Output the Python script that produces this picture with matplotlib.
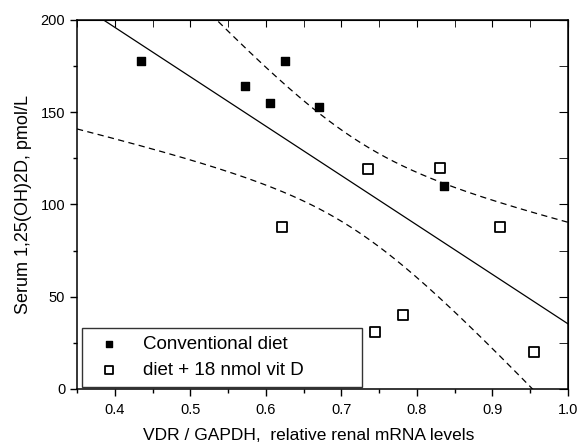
import numpy as np
import matplotlib
matplotlib.use("Agg")
import matplotlib.pyplot as plt
from matplotlib.ticker import MultipleLocator

plt.rcParams['font.family'] = ['Liberation Sans', 'DejaVu Sans']

conv_x = [0.435, 0.572, 0.605, 0.625, 0.670, 0.836]
conv_y = [178, 164, 155, 178, 153, 110]
vitd_x = [0.622, 0.735, 0.830, 0.745, 0.782, 0.910, 0.955]
vitd_y = [88, 119, 120, 31, 40, 88, 20]

labels = ["Conventional diet", "diet + 18 nmol vit D"]
xlabel = "VDR / GAPDH,  relative renal mRNA levels"
ylabel = "Serum 1,25(OH)2D, pmol/L"

# regression with 95% confidence band on the mean
x_all = np.array(conv_x + vitd_x)
y_all = np.array(conv_y + vitd_y)
n = len(x_all)
b, a = np.polyfit(x_all, y_all, 1)
resid = y_all - (a + b * x_all)
s = np.sqrt(np.sum(resid ** 2) / (n - 2))
xbar = x_all.mean()
sxx = np.sum((x_all - xbar) ** 2)
t = 2.201
xs = np.linspace(0.35, 1.0, 300)
yfit = a + b * xs
hw = t * s * np.sqrt(1 / n + (xs - xbar) ** 2 / sxx)

fig = plt.figure(figsize=(5.79, 4.44), dpi=100)
ax = fig.add_axes([0.133, 0.124, 0.848, 0.831])

ax.plot(xs, yfit, color='black', lw=0.9)
ax.plot(xs, yfit + hw, color='black', lw=0.9, ls=(0, (5, 3.5)))
ax.plot(xs, yfit - hw, color='black', lw=0.9, ls=(0, (5, 3.5)))

ax.scatter(conv_x, conv_y, marker='s', s=30, color='black', zorder=3, label=labels[0])
ax.scatter(vitd_x, vitd_y, marker='s', s=62, facecolor='white', edgecolor='black',
           linewidths=1.3, zorder=3, label=labels[1])

ax.set_xlim(0.35, 1.0)
ax.set_ylim(0, 200)
ax.xaxis.set_major_locator(MultipleLocator(0.1))
ax.xaxis.set_minor_locator(MultipleLocator(0.05))
ax.yaxis.set_major_locator(MultipleLocator(50))
ax.yaxis.set_minor_locator(MultipleLocator(25))
ax.set_xticks([0.4, 0.5, 0.6, 0.7, 0.8, 0.9, 1.0])
ax.set_xticklabels(['0.4', '0.5', '0.6', '0.7', '0.8', '0.9', '1.0'])

ax.tick_params(which='both', direction='out', labelsize=10.5, width=1, top=False, right=False)
ax.tick_params(which='major', length=5)
ax.tick_params(which='minor', length=3)
ax.tick_params(axis='x', pad=5)
for sp in ax.spines.values():
    sp.set_linewidth(1.1)

sec_x = ax.secondary_xaxis('top')
sec_x.xaxis.set_major_locator(MultipleLocator(0.1))
sec_x.xaxis.set_minor_locator(MultipleLocator(0.05))
sec_x.tick_params(which='both', direction='in', labeltop=False, length=5)
sec_y = ax.secondary_yaxis('right')
sec_y.yaxis.set_major_locator(MultipleLocator(50))
sec_y.yaxis.set_minor_locator(MultipleLocator(25))
sec_y.tick_params(which='both', direction='in', labelright=False, length=6.5)

ax.set_xlabel(xlabel, fontsize=12.5, labelpad=8)
ax.xaxis.set_label_coords(0.472, -0.105)
ax.set_ylabel(ylabel, fontsize=13, labelpad=6)

leg = ax.legend(loc='lower left', bbox_to_anchor=(0.010, 0.005, 0.570, 0.172),
                mode='expand', fontsize=13.5, frameon=True, fancybox=False,
                edgecolor='black', borderaxespad=0.0, handletextpad=0.8,
                borderpad=0.45, labelspacing=0.45, markerscale=0.8)
leg.get_frame().set_linewidth(1.0)

fig.savefig('out.png', dpi=100)
